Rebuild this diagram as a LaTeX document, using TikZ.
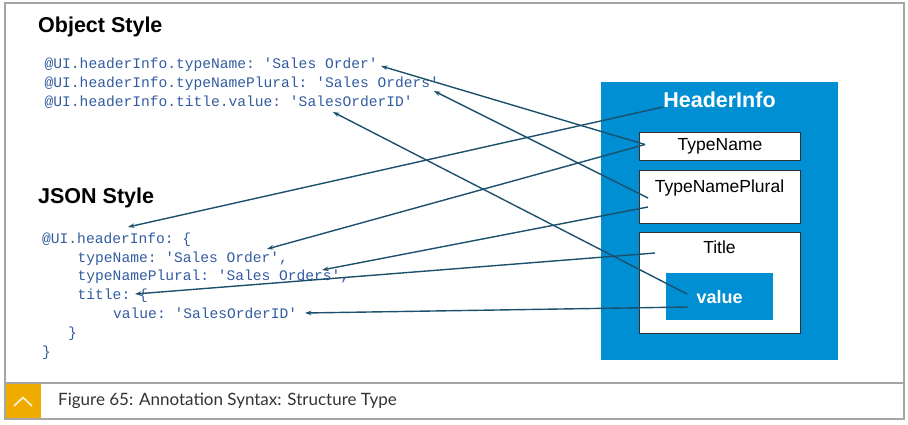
\documentclass[tikz,border=0pt]{standalone}
\usepackage{fontspec}
\setmainfont{Liberation Sans}
\setmonofont{Liberation Mono}
\newfontfamily\capfont{Lato}
\usetikzlibrary{arrows.meta}

\definecolor{sapblue}{RGB}{0,143,211}
\definecolor{codeblue}{RGB}{50,92,160}
\definecolor{linkteal}{RGB}{28,80,108}
\definecolor{sapgold}{RGB}{240,171,0}
\definecolor{framegray}{RGB}{165,165,165}

\tikzset{
  code/.style={anchor=base west, inner sep=0pt, font=\fontsize{14.6}{16}\ttfamily, text=codeblue},
  heading/.style={anchor=base west, inner sep=0pt, font=\fontsize{21.5}{24}\bfseries},
  field/.style={draw=black!80, line width=1pt, fill=white, minimum width=161pt, anchor=north west, inner sep=0pt},
  fieldtext/.style={anchor=base, inner sep=0pt, font=\fontsize{17.5}{20}\selectfont},
  link/.style={linkteal, line width=1.4pt, -{Stealth[length=6.5pt,width=4.5pt]}},
}

\begin{document}
\begin{tikzpicture}[x=1pt,y=-1pt]
  \useasboundingbox (0,0) rectangle (908,424);

    % Rahmen
  \draw[framegray, line width=1.5pt] (5,3) rectangle (904,419);
  \draw[framegray, line width=1.5pt] (5,383) -- (904,383);
  \fill[sapgold] (5.75,383.75) rectangle (41,418.25);
  \draw[white!85!sapgold, line width=1.6pt] (14,406) -- (23,397.5) -- (32,406);
  \node (caption) [anchor=base west, inner sep=0pt, font=\capfont\fontsize{17}{19}\selectfont, text=black!80] at (58,405.5)
    {Figure 65: Annotation Syntax: Structure Type};

    % Object Style
  \node (objhead) [heading] at (38,32) {Object Style};
  \node (obj1) [code] at (44.5,68) {@UI.headerInfo.typeName: 'Sales Order'};
  \node (obj2) [code] at (44.5,87) {@UI.headerInfo.typeNamePlural: 'Sales Orders'};
  \node (obj3) [code] at (44.5,106) {@UI.headerInfo.title.value: 'SalesOrderID'};

    % JSON Style
  \node (jsonhead) [heading] at (38,203) {JSON Style};
  \node (json1) [code] at (42,243) {@UI.headerInfo: \{};
  \node (json2) [code] at (77.5,262) {typeName: 'Sales Order',};
  \node (json3) [code] at (77.5,280.8) {typeNamePlural: 'Sales Orders',};
  \node (json4) [code] at (77.5,299.6) {title: \{};
  \node (json5) [code] at (113,318.4) {value: 'SalesOrderID'};
  \node (json6) [code] at (68,337.2) {\}};
  \node (json7) [code] at (42,356) {\}};

    % HeaderInfo
  \node (hdr) [fill=sapblue, minimum width=237pt, minimum height=278pt, anchor=north west, inner sep=0pt] at (601,82) {};
  \node (hdrtext) [anchor=base, inner sep=0pt, text=white, font=\fontsize{21.5}{24}\bfseries] at (719.5,107) {HeaderInfo};
  \node (tname) [field, minimum height=28pt, font=\fontsize{17.5}{20}\selectfont] at (639,132) {TypeName};
  \node (tplural) [field, minimum height=53pt] at (639,170) {};
  \node (tpluraltext) [fieldtext] at (719.5,192) {TypeNamePlural};
  \node (title) [field, minimum height=101pt] at (639,232) {};
  \node (titletext) [fieldtext] at (719.5,253) {Title};
  \node (value) [fill=sapblue, minimum width=107pt, minimum height=47pt, anchor=north west, inner sep=0pt,
    text=white, font=\fontsize{18}{20}\bfseries] at (666,273) {value};

    % Ankerpunkte
  \coordinate (tnameA) at (645,144.5);
  \coordinate (tpluralA) at (648,198);
  \coordinate (tpluralB) at (648,207);
  \coordinate (hdrA) at (663,107);
  \coordinate (titleA) at (655,253);
  \coordinate (valueA) at (687,294);
  \coordinate (valueB) at (688,307);
  \coordinate (obj1E) at (381,66);
  \coordinate (obj2E) at (434,91);
  \coordinate (obj3E) at (333,112);
  \coordinate (json1E) at (128,227);
  \coordinate (json2E) at (267,249);
  \coordinate (json3E) at (322,270);
  \coordinate (json4E) at (135,294);
  \coordinate (json5E) at (305,313);

    % Pfeile
  \draw[link] (tnameA) -- (obj1E);
  \draw[link] (tpluralA) -- (obj2E);
  \draw[link] (valueA) -- (obj3E);
  \draw[link] (hdrA) -- (json1E);
  \draw[link] (tnameA) -- (json2E);
  \draw[link] (tpluralB) -- (json3E);
  \draw[link] (titleA) -- (json4E);
  \draw[link] (valueB) -- (json5E);
\end{tikzpicture}
\end{document}
